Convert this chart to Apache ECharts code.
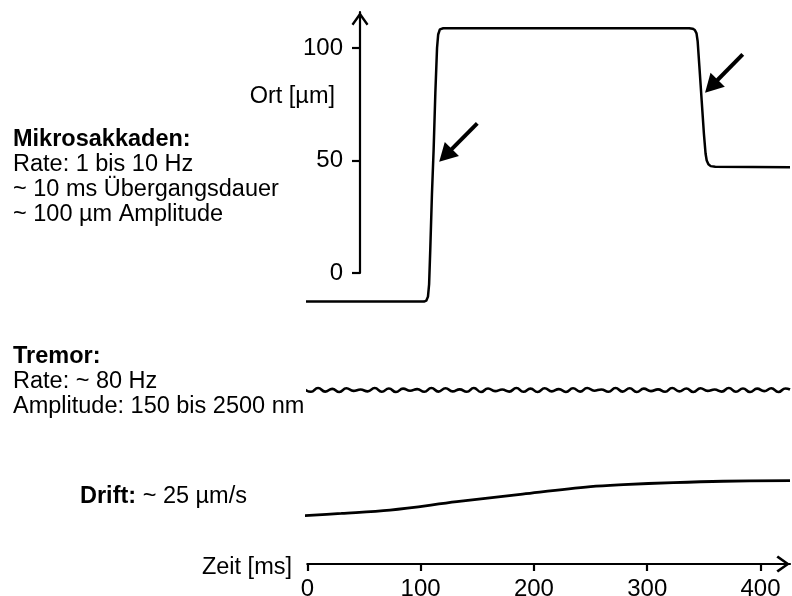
<!DOCTYPE html>
<html>
<head>
<meta charset="utf-8">
<script src="https://cdn.jsdelivr.net/npm/echarts@6/dist/echarts.min.js"></script>
<style>
  html, body { margin: 0; padding: 0; background: #ffffff; }
  #chart { width: 792px; height: 596px; }
</style>
</head>
<body>
<div id="chart"></div>
<script>
// Microsaccades: eye position (µm) over time (ms)
const saccadeTimes = [-2, 103, 105, 106.5, 107.5, 108.5, 110, 111.5, 113, 114.5, 115.5, 117, 120,
                      337, 340, 342, 343.5, 344.5, 346, 348, 350, 351.5, 352.5, 354, 356, 360, 426];
const saccadePos   = [-12.7, -12.7, -12.3, -10.5, -5, 10, 35, 55, 80, 100, 106, 108.3, 108.8,
                      108.8, 108.6, 108, 106.5, 103, 92, 77, 62, 53, 50, 48.3, 47.5, 47.2, 47];

// Arrows pointing at the two saccades: [time, position] of tail and head
const arrowTails = [[150, 66.5], [384.3, 97.2]];
const arrowHeads = [[122, 52.3], [356.6, 83]];

// Tremor: ~80 Hz oscillation, sampled at its peaks and troughs (µm around the rest position)
const tremorTimes = [-3, 3.25, 9.5, 15.75, 22, 28.25, 34.5, 40.75, 47, 53.25, 59.5, 65.75, 72, 78.25,
                     84.5, 90.75, 97, 103.25, 109.5, 115.75, 122, 128.25, 134.5, 140.75, 147, 153.25,
                     159.5, 165.75, 172, 178.25, 184.5, 190.75, 197, 203.25, 209.5, 215.75, 222, 228.25,
                     234.5, 240.75, 247, 253.25, 259.5, 265.75, 272, 278.25, 284.5, 290.75, 297, 303.25,
                     309.5, 315.75, 322, 328.25, 334.5, 340.75, 347, 353.25, 359.5, 365.75, 372, 378.25,
                     384.5, 390.75, 397, 403.25, 409.5, 415.75, 422, 426];
const tremorPos   = [0.6, -0.8, 0.9, -0.7, 0.5, -0.9, 0.8, -0.4, 0.2, -0.6, 0.9, -0.8, 0.7, -0.9,
                     0.6, -0.3, 0.4, -0.8, 0.9, -0.7, 0.8, -0.6, 0.3, -0.8, 0.9, -0.9, 0.7, -0.5,
                     0.2, -0.7, 0.9, -0.8, 0.6, -0.9, 0.8, -0.6, 0.4, -0.9, 0.8, -0.7, 0.9, -0.3,
                     0.2, -0.8, 0.9, -0.7, 0.8, -0.9, 0.6, -0.5, 0.3, -0.8, 0.9, -0.6, 0.7, -0.9,
                     0.8, -0.4, 0.2, -0.7, 0.9, -0.8, 0.7, -0.9, 0.6, -0.5, 0.8, -0.9, 0.7, 0.2];

// Drift: slow displacement (µm relative to the start)
const driftTimes = [-3, 30, 73, 132, 190, 250, 279, 323, 367, 426];
const driftPos   = [0, 1.0, 2.5, 6.2, 9.6, 12.9, 13.8, 14.7, 15.3, 15.6];

// Axis ticks
const timeTicks = [0, 100, 200, 300, 400];
const posTicks = [0, 50, 100];

const FONT = '"Liberation Sans", Arial, Helvetica, sans-serif';
const INK = '#000000';

// open arrow head for the axis ends (points up before rotation)
const chevron = 'path://M8,0 L16,11.2 L14.2,12.8 L8,4 L1.8,12.8 L0,11.2 Z';

const zip = (xs, ys) => xs.map((x, i) => [x, ys[i]]);

const chart = echarts.init(document.getElementById('chart'), null, { renderer: 'canvas' });

const hiddenX = (gi) => ({ gridIndex: gi, type: 'value', min: 0, max: 426, show: false });

const textLine = (x, y, text, bold, align) => ({
  type: 'text', x: x, y: y, silent: true,
  style: {
    text: text, fill: INK, fontFamily: FONT, fontSize: 23.5,
    fontWeight: bold ? 'bold' : 'normal', align: align || 'left', verticalAlign: 'middle'
  }
});

chart.setOption({
  animation: false,
  backgroundColor: '#ffffff',
  textStyle: { fontFamily: FONT, color: INK },
  grid: [
    { left: 307.3, right: 2, top: 12, height: 261, outerBoundsMode: 'none', containLabel: false },   // microsaccades
    { left: 307.3, right: 2, top: 381, height: 18, outerBoundsMode: 'none', containLabel: false },   // tremor
    { left: 307.3, right: 2, top: 470, height: 94, outerBoundsMode: 'none', containLabel: false }    // drift + time axis
  ],
  xAxis: [
    hiddenX(0),
    hiddenX(1),
    {
      gridIndex: 2, type: 'value', min: 0, max: 426, position: 'bottom',
      axisLine: {
        show: true, onZero: false,
        lineStyle: { color: INK, width: 2.2 },
        symbol: ['none', chevron], symbolSize: [17, 14], symbolOffset: [0, -6.8]
      },
      axisTick: { show: true, inside: false, length: 7, lineStyle: { color: INK, width: 2.2 }, customValues: timeTicks },
      axisLabel: { show: true, customValues: timeTicks, margin: 13, fontSize: 24, color: INK, fontFamily: FONT },
      splitLine: { show: false }
    }
  ],
  yAxis: [
    {
      gridIndex: 0, type: 'value', min: 0, max: 116, position: 'left', offset: -52.7,
      axisLine: {
        show: true, onZero: false,
        lineStyle: { color: INK, width: 2.2 },
        symbol: ['none', chevron], symbolSize: [17, 14], symbolOffset: [0, -6.8]
      },
      axisTick: { show: true, inside: false, length: 8, lineStyle: { color: INK, width: 2.2 }, customValues: posTicks },
      axisLabel: { show: true, customValues: posTicks, margin: 17, fontSize: 24, color: INK, fontFamily: FONT },
      splitLine: { show: false }
    },
    { gridIndex: 1, type: 'value', min: -4, max: 4, show: false },
    { gridIndex: 2, type: 'value', min: -21.5, max: 20.3, show: false }
  ],
  series: [
    {
      name: 'Mikrosakkaden', type: 'line', xAxisIndex: 0, yAxisIndex: 0,
      data: zip(saccadeTimes, saccadePos), showSymbol: false, symbol: 'none', clip: false,
      lineStyle: { color: INK, width: 2.5 }, silent: true,
      markLine: {
        silent: true, animation: false,
        symbol: ['none', 'triangle'], symbolSize: [20, 18],
        label: { show: false }, emphasis: { disabled: true },
        lineStyle: { color: INK, width: 4, type: 'solid' },
        itemStyle: { color: INK },
        data: arrowTails.map((t, i) => [{ coord: t }, { coord: arrowHeads[i] }])
      }
    },
    {
      name: 'Tremor', type: 'line', xAxisIndex: 1, yAxisIndex: 1,
      data: zip(tremorTimes, tremorPos), showSymbol: false, symbol: 'none', clip: false,
      smooth: 0.5, lineStyle: { color: INK, width: 2.6 }, silent: true
    },
    {
      name: 'Drift', type: 'line', xAxisIndex: 2, yAxisIndex: 2,
      data: zip(driftTimes, driftPos), showSymbol: false, symbol: 'none', clip: false,
      smooth: 0.35, lineStyle: { color: INK, width: 2.8 }, silent: true
    }
  ],
  graphic: [
    textLine(335, 97, 'Ort [µm]', false, 'right'),
    textLine(292, 568, 'Zeit [ms]', false, 'right'),
    textLine(13, 140, 'Mikrosakkaden:', true),
    textLine(13, 165, 'Rate: 1 bis 10 Hz', false),
    textLine(13, 190, '~ 10 ms Übergangsdauer', false),
    textLine(13, 215, '~ 100 µm Amplitude', false),
    textLine(13, 357, 'Tremor:', true),
    textLine(13, 382, 'Rate: ~ 80 Hz', false),
    textLine(13, 407, 'Amplitude: 150 bis 2500 nm', false),
    {
      type: 'text', x: 80, y: 497, silent: true,
      style: {
        text: '{b|Drift:} ~ 25 µm/s', fill: INK, fontFamily: FONT, fontSize: 23.5,
        align: 'left', verticalAlign: 'middle',
        rich: { b: { fontWeight: 'bold', fontFamily: FONT, fontSize: 23.5, fill: INK } }
      }
    }
  ]
});
</script>
</body>
</html>
